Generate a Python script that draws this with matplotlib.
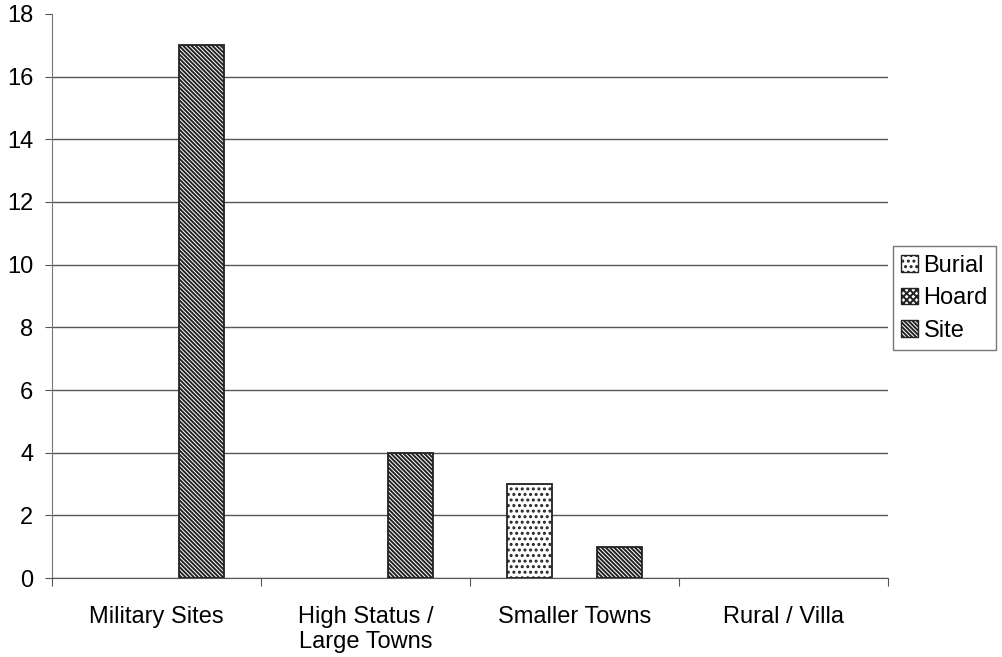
import matplotlib
matplotlib.use("Agg")
import matplotlib.pyplot as plt
import numpy as np
from matplotlib.ticker import FixedLocator, NullFormatter

categories = ["Military Sites", "High Status /\nLarge Towns", "Smaller Towns", "Rural / Villa"]
series_names = ["Burial", "Hoard", "Site"]
burial = [0, 0, 3, 0]
hoard = [0, 0, 0, 0]
site = [17, 4, 1, 0]
y_ticks = [0, 2, 4, 6, 8, 10, 12, 14, 16, 18]

plt.rcParams["font.family"] = ["Liberation Sans", "DejaVu Sans"]
plt.rcParams["hatch.linewidth"] = 1.4

fig = plt.figure(figsize=(10.02, 6.57), dpi=100)
ax = fig.add_axes([0.052, 0.120, 0.834, 0.859])

x = np.arange(len(categories))
width = 0.215
styles = [
    dict(hatch="...", facecolor="white", edgecolor="#222222"),
    dict(hatch="xxxxx", facecolor="white", edgecolor="#222222"),
    dict(hatch="\\" * 8, facecolor="white", edgecolor="#222222"),
]
handles = []
for i, (vals, name, st) in enumerate(zip([burial, hoard, site], series_names, styles)):
    lw = [1.3 if v > 0 else 0 for v in vals]
    bars = ax.bar(x + (i - 1) * width, vals, width, label=name, linewidth=lw,
                  zorder=3, **st)
    handles.append(bars)

ax.set_xlim(-0.5, len(categories) - 0.5)
ax.set_ylim(0, 18)
ax.set_yticks(y_ticks)
ax.yaxis.grid(True, color="#555555", linewidth=1.0, zorder=0)
ax.set_axisbelow(True)
ax.get_ygridlines()[-1].set_visible(False)

# category boundaries carry the tick marks, labels sit at the centres
ax.xaxis.set_major_locator(FixedLocator(np.arange(len(categories) + 1) - 0.5))
ax.xaxis.set_major_formatter(NullFormatter())
ax.xaxis.set_minor_locator(FixedLocator(x))
ax.set_xticklabels(categories, minor=True)
ax.tick_params(axis="x", which="minor", length=0, pad=20, labelsize=17)
ax.tick_params(axis="x", which="major", length=6, color="#555555", direction="out")
ax.tick_params(axis="y", length=5, color="#555555", labelsize=17, pad=8.5)

for s in ["top", "right"]:
    ax.spines[s].set_visible(False)
ax.spines["left"].set_color("#777777")
ax.spines["bottom"].set_color("#555555")

leg = fig.legend(handles=handles, labels=series_names, loc="center left",
                 bbox_to_anchor=(0.891, 0.546), frameon=True, fancybox=False,
                 fontsize=17, handlelength=0.7, handleheight=0.7,
                 handletextpad=0.25, borderpad=0.35, labelspacing=0.45,
                 borderaxespad=0)
leg.get_frame().set_edgecolor("#555555")
leg.get_frame().set_linewidth(1.0)
for p in leg.get_patches():
    p.set_linewidth(1.0)

fig.savefig("out.png", dpi=100)
